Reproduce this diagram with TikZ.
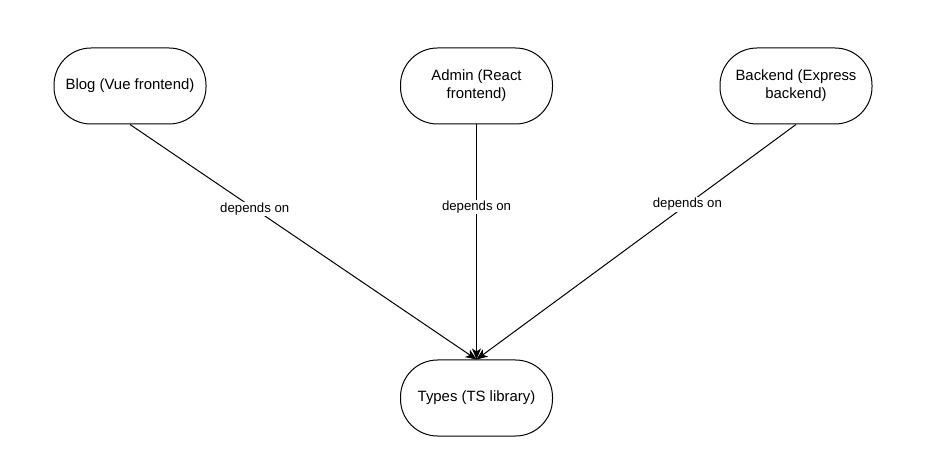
\documentclass[tikz,border=0pt]{standalone}
\usepackage{fontspec}
\setmainfont{Liberation Sans}
\usetikzlibrary{arrows.meta}

\begin{document}
\begin{tikzpicture}[x=1pt,y=-1pt,line width=1pt,
    box/.style={draw,rounded corners=37pt,minimum width=152pt,minimum height=76pt,
        align=center,font=\fontsize{14.9}{18}\selectfont},
    dep/.style={-{Stealth[length=11pt,width=9pt,inset=3pt]}},
    deplabel/.style={fill=white,inner sep=1pt,font=\fontsize{13.2}{15}\selectfont}]

    \useasboundingbox (0,0) rectangle (940,454);

	% the three packages on top
	\node[box] (blog) at (130,86) {Blog (Vue frontend)};
	\node[box] (admin) at (476.5,86) {Admin (React\\frontend)};
	\node[box] (backend) at (796,86) {Backend (Express\\backend)};

	% shared library below
	\node[box] (types) at (476.5,398) {Types (TS library)};

	\draw[dep] (blog.south) -- node[deplabel,pos=0.36] {depends on} (types.north);
	\draw[dep] (admin.south) -- node[deplabel,pos=0.35] {depends on} (types.north);
	\draw[dep] (backend.south) -- node[deplabel,pos=0.34] {depends on} (types.north);

\end{tikzpicture}
\end{document}
